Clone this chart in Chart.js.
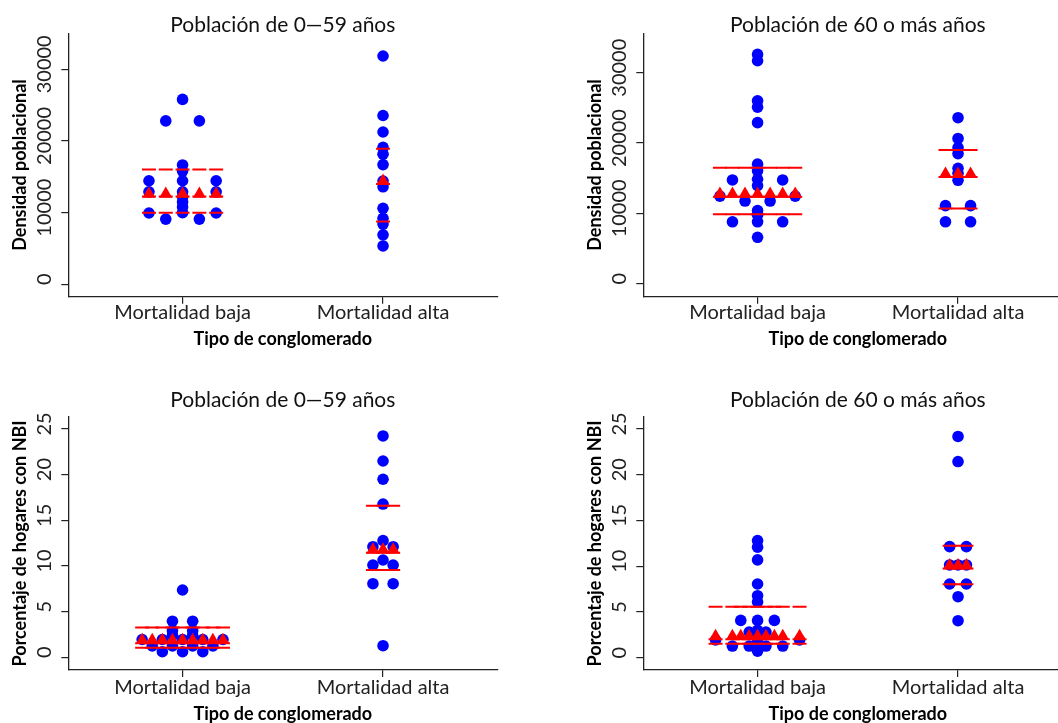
<!DOCTYPE html>
<html><head><meta charset="utf-8">
<script src="https://cdn.jsdelivr.net/npm/chart.js@4.4.1/dist/chart.umd.min.js"></script>
<style>
html,body{margin:0;padding:0;background:#fff;overflow:hidden;}
#wrap{position:relative;width:1058px;height:723px;overflow:hidden;background:#fff;}
canvas{position:absolute;}
</style></head><body><div id="wrap">
<canvas id="c1" width="529" height="361" style="left:0px;top:0px;width:529px;height:361px"></canvas>
<canvas id="c2" width="529" height="361" style="left:575px;top:0px;width:529px;height:361px"></canvas>
<canvas id="c3" width="529" height="362" style="left:0px;top:361px;width:529px;height:362px"></canvas>
<canvas id="c4" width="529" height="362" style="left:575px;top:361px;width:529px;height:362px"></canvas>
</div>
<script>
// ---------- text ----------
const categories = ["Mortalidad baja", "Mortalidad alta"];
const panelTitles = ["Población de 0—59 años", "Población de 60 o más años", "Población de 0—59 años", "Población de 60 o más años"];
const xAxisTitle = "Tipo de conglomerado";
const yTitleDensity = "Densidad poblacional";
const yTitleNBI = "Porcentaje de hogares con NBI";
const densityTicks = [0, 10000, 20000, 30000];
const nbiTicks = [0, 5, 10, 15, 20, 25];

// ---------- Densidad, 0–59 años ----------
const densYoungLow    = [25800, 22800, 22800, 16650, 15800, 14450, 14450, 14450, 12900, 12900, 12900, 12200, 11500, 10800, 10000, 9950, 9950, 9100, 9100];
const densYoungLowCol = [0, -1, 1, 0, 0, -2, 0, 2, -2, 0, 2, 0, 0, 0, 0, -2, 2, -1, 1];
const densYoungHigh    = [31850, 23550, 21250, 19100, 18150, 16700, 14400, 13600, 10600, 9200, 8400, 6900, 5350];
const densYoungHighCol = [0, 0, 0, 0, 0, 0, 0, 0, 0, 0, 0, 0, 0];
// [Q1, median, Q3, triangle]
const densYoungLowStats  = [10000, 12250, 16000, 12600];
const densYoungHighStats = [8750, 14000, 18900, 14400];

// ---------- Densidad, 60+ años ----------
const densOldLow    = [32600, 31700, 26000, 25100, 22900, 17000, 16050, 14850, 13950, 10400, 9750, 8800, 6600, 11750, 11750, 14750, 14750, 8800, 8800, 12450, 12450];
const densOldLowCol = [0, 0, 0, 0, 0, 0, 0, 0, 0, 0, 0, 0, 0, -1, 1, -2, 2, -2, 2, -3, 3];
const densOldHigh    = [23600, 20650, 19350, 18500, 16400, 15700, 14700, 11100, 11100, 8800, 8800];
const densOldHighCol = [0, 0, 0, 0, 0, 0, 0, -1, 1, -1, 1];
const densOldLowStats  = [9870, 12370, 16500, 12770];
const densOldHighStats = [10700, 15170, 19000, 15600];

// ---------- NBI, 0–59 años ----------
const nbiYoungLow    = [7.37, 3.95, 3.95, 2.9, 2.9, 2.4, 2.4, 1.95, 1.95, 1.95, 1.95, 1.95, 1.24, 1.24, 1.24, 1.24, 0.61, 0.61, 0.61];
const nbiYoungLowCol = [0, -1, 1, -1, 1, -1, 1, -4, -2, 0, 2, 4, -3, -1, 1, 3, -2, 0, 2];
const nbiYoungHigh    = [24.23, 21.49, 19.49, 16.78, 12.77, 10.65, 1.27, 12.11, 12.11, 10.1, 10.1, 8.06, 8.06];
const nbiYoungHighCol = [0, 0, 0, 0, 0, 0, 0, -1, 1, -1, 1, -1, 1];
const nbiYoungLowStats  = [1.05, 1.53, 3.26, 1.87];
const nbiYoungHighStats = [9.56, 11.45, 16.6, 11.78];

// ---------- NBI, 60+ años ----------
const nbiOldLow    = [12.8, 12.08, 10.69, 8.06, 6.78, 6.1, 4.08, 3.0, 2.3, 1.75, 0.72, 2.8, 2.8, 1.28, 1.28, 4.08, 4.08, 1.28, 1.28, 1.94, 1.94];
const nbiOldLowCol = [0, 0, 0, 0, 0, 0, 0, 0, 0, 0, 0, -1, 1, -1, 1, -2, 2, -3, 3, -5, 5];
const nbiOldHigh    = [24.18, 21.44, 10.14, 6.67, 4.05, 12.14, 12.14, 10.14, 10.14, 8.06, 8.06];
const nbiOldHighCol = [0, 0, 0, 0, 0, -1, 1, -1, 1, -1, 1];
const nbiOldLowStats  = [1.52, 2.01, 5.58, 2.34];
const nbiOldHighStats = [8.03, 9.74, 12.25, 10.07];

// ---------- styles ----------
const BLUE = '#0000FF', RED = '#FF0000', AXIS = '#222222';
const FAMILY = 'Lato, "Open Sans", sans-serif';
const tickFont = {family: FAMILY, size: 20, weight: 'normal', lineHeight: 1};
const titleFont = {family: FAMILY, size: 21, weight: 'normal', lineHeight: 1};
const axisTitleFont = {family: FAMILY, size: 18, weight: 'bold', lineHeight: 1};

function measureWidest(labels) {
  const c = document.createElement('canvas').getContext('2d');
  c.font = tickFont.weight + ' ' + tickFont.size + 'px ' + tickFont.family;
  return Math.max(...labels.map(l => c.measureText(String(l)).width));
}

function groupDatasets(cat, values, cols, stats, step) {
  const pts = values.map((v, i) => ({x: cat + cols[i] * step, y: v}));
  const uniq = [...new Set(cols)].sort((a, b) => a - b);
  const row = v => uniq.map(c => ({x: cat + c * step, y: v}));
  return [
    {data: row(stats[3]), pointStyle: 'triangle', pointRadius: 7.5, backgroundColor: RED, borderColor: RED, borderWidth: 0, order: 0},
    {data: [...row(stats[0]), ...row(stats[1]), ...row(stats[2])], pointStyle: 'line', pointRadius: 7, borderColor: RED, backgroundColor: RED, borderWidth: 2, order: 1},
    {data: pts, pointStyle: 'circle', pointRadius: 5.8, backgroundColor: BLUE, borderWidth: 0, order: 2}
  ];
}

function makeChart(id, p) {
  const widest = measureWidest(p.yTicks);
  const yPad = 68.3 - 7 - 44.3 - widest / 2;
  new Chart(document.getElementById(id), {
    type: 'scatter',
    data: {datasets: [
      ...groupDatasets(1, p.low, p.lowCol, p.lowStats, p.step),
      ...groupDatasets(2, p.high, p.highCol, p.highStats, p.step)
    ]},
    options: {
      responsive: false, animation: false, devicePixelRatio: 1,
      layout: {padding: {left: 0, right: 31.7, top: 0, bottom: 0}},
      plugins: {
        legend: {display: false}, tooltip: {enabled: false},
        title: {display: true, text: p.title, fullSize: false, color: '#111', font: titleFont,
                padding: {top: p.titleTop, bottom: p.titleBottom}}
      },
      scales: {
        x: {
          type: 'linear', min: 0.43, max: 2.57,
          afterBuildTicks: s => { s.ticks = categories.map((c, i) => ({value: i + 1})); },
          afterFit: s => { s.height = p.xAxisH; },
          ticks: {callback: v => categories[v - 1], font: tickFont, color: '#222', padding: p.xTickPad, maxRotation: 0, minRotation: 0, autoSkip: false},
          grid: {display: true, drawOnChartArea: false, drawTicks: true, tickLength: 7, color: AXIS, lineWidth: 1.2},
          border: {display: true, color: AXIS, width: 1.3},
          title: {display: true, text: xAxisTitle, color: '#000', font: axisTitleFont, padding: {top: 0, bottom: p.xTitlePad}}
        },
        y: {
          type: 'linear', min: p.yMin, max: p.yMax,
          afterBuildTicks: s => { s.ticks = p.yTicks.map(v => ({value: v})); },
          afterFit: s => { s.width = 68.3; },
          ticks: {font: tickFont, color: '#222', minRotation: 90, maxRotation: 90, crossAlign: 'center', padding: yPad, labelOffset: -5, callback: v => String(v)},
          grid: {display: true, drawOnChartArea: false, drawTicks: true, tickLength: 7, color: AXIS, lineWidth: 1.2},
          border: {display: true, color: AXIS, width: 1.3},
          title: {display: true, text: p.yTitle, color: '#000', font: axisTitleFont, padding: {top: 11, bottom: 0}}
        }
      }
    }
  });
}

const topRow = {titleTop: 14.5, titleBottom: -2.2, xAxisH: 64.3, xTickPad: -0.7, xTitlePad: 12.8};
const bottomRow = {titleTop: 28.5, titleBottom: 6.2, xAxisH: 53, xTickPad: 1, xTitlePad: 0};

makeChart('c1', Object.assign({title: panelTitles[0], yTitle: yTitleDensity, yTicks: densityTicks, yMin: -1730, yMax: 35020, step: 0.0838,
  low: densYoungLow, lowCol: densYoungLowCol, lowStats: densYoungLowStats,
  high: densYoungHigh, highCol: densYoungHighCol, highStats: densYoungHighStats}, topRow));
makeChart('c2', Object.assign({title: panelTitles[1], yTitle: yTitleDensity, yTicks: densityTicks, yMin: -1848, yMax: 35600, step: 0.0626,
  low: densOldLow, lowCol: densOldLowCol, lowStats: densOldLowStats,
  high: densOldHigh, highCol: densOldHighCol, highStats: densOldHighStats}, topRow));
makeChart('c3', Object.assign({title: panelTitles[2], yTitle: yTitleNBI, yTicks: nbiTicks, yMin: -1.39, yMax: 26.34, step: 0.0504,
  low: nbiYoungLow, lowCol: nbiYoungLowCol, lowStats: nbiYoungLowStats,
  high: nbiYoungHigh, highCol: nbiYoungHighCol, highStats: nbiYoungHighStats}, bottomRow));
makeChart('c4', Object.assign({title: panelTitles[3], yTitle: yTitleNBI, yTicks: nbiTicks, yMin: -1.34, yMax: 26.34, step: 0.0419,
  low: nbiOldLow, lowCol: nbiOldLowCol, lowStats: nbiOldLowStats,
  high: nbiOldHigh, highCol: nbiOldHighCol, highStats: nbiOldHighStats}, bottomRow));
</script></body></html>
